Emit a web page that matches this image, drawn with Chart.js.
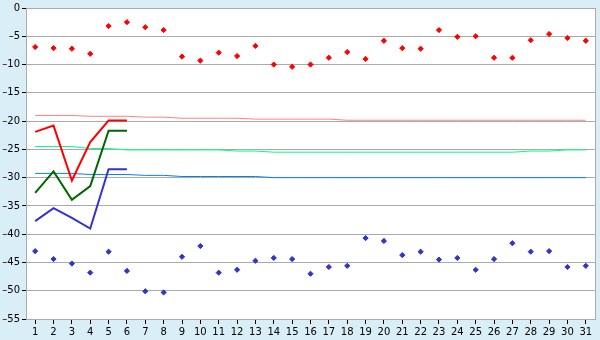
<!DOCTYPE html>
<html>
<head>
<meta charset="utf-8">
<script src="https://cdn.jsdelivr.net/npm/chart.js@4/dist/chart.umd.min.js"></script>
<style>
  body { margin: 0; background: #d9eef6; }
  canvas { display: block; }
</style>
</head>
<body>
<canvas id="chart" width="600" height="340"></canvas>
<script>
let days = [];
for (let d = 1; d <= 31; d++) days.push(String(d));

// daily extremes (points)
let maxTemp = [-6.9, -7.1, -7.2, -8.1, -3.2, -2.5, -3.4, -3.9, -8.6, -9.3,
    -7.9, -8.5, -6.7, -10.0, -10.4, -10.0, -8.8, -7.8, -9.0, -5.8,
    -7.1, -7.2, -3.9, -5.1, -5.0, -8.8, -8.8, -5.7, -4.6, -5.3, -5.8];
let minTemp = [-43.0, -44.4, -45.2, -46.8, -43.1, -46.5, -50.1, -50.3, -44.0, -42.1,
    -46.8, -46.3, -44.7, -44.2, -44.4, -47.0, -45.8, -45.6, -40.7, -41.2,
    -43.7, -43.1, -44.5, -44.2, -46.3, -44.4, -41.6, -43.1, -43.0, -45.8, -45.6];

// current month lines (first 6 days)
let dayMax = [-21.9, -20.8, -30.5, -23.7, -19.9, -19.9];
let dayMean = [-32.7, -28.9, -33.9, -31.5, -21.7, -21.7];
let dayMin = [-37.7, -35.4, -37.1, -39.0, -28.5, -28.5];

// normals
let normMax = [-19.0, -19.0, -19.0, -19.15, -19.15, -19.15, -19.3, -19.3, -19.5, -19.5,
    -19.5, -19.5, -19.65, -19.65, -19.65, -19.65, -19.65, -19.85, -19.85, -19.85,
    -19.85, -19.85, -19.85, -19.85, -19.85, -19.85, -19.85, -19.85, -19.85, -19.85, -19.85];
let normMean = [-24.5, -24.5, -24.5, -24.85, -24.85, -25.1, -25.1, -25.1, -25.1, -25.1,
    -25.1, -25.3, -25.3, -25.5, -25.5, -25.5, -25.5, -25.5, -25.5, -25.5,
    -25.5, -25.5, -25.5, -25.5, -25.5, -25.5, -25.5, -25.3, -25.3, -25.1, -25.1];
let normMin = [-29.25, -29.25, -29.25, -29.45, -29.45, -29.45, -29.6, -29.6, -29.8, -29.8,
    -29.8, -29.8, -29.8, -30.0, -30.0, -30.0, -30.0, -30.0, -30.0, -30.0,
    -30.0, -30.0, -30.0, -30.0, -30.0, -30.0, -30.0, -30.0, -30.0, -30.0, -30.0];

let yTicks = [0, -5, -10, -15, -20, -25, -30, -35, -40, -45, -50, -55];

function thinLine(values, color) {
    return {
        type: 'line', data: values, borderColor: color, borderWidth: 1,
        pointRadius: 0, fill: false, tension: 0
    };
}
function thickLine(values, color) {
    return {
        type: 'line', data: values, borderColor: color, borderWidth: 2,
        pointRadius: 0, fill: false, tension: 0
    };
}
function dots(values, color) {
    return {
        type: 'line', data: values, showLine: false, pointStyle: 'rectRot',
        pointRadius: 2.6, pointBackgroundColor: color, pointBorderColor: color,
        pointBorderWidth: 1
    };
}

const framePlugin = {
    id: 'frame',
    beforeDraw(chart) {
        const c = chart.ctx, a = chart.chartArea;
        c.save();
        c.fillStyle = '#ffffff';
        c.fillRect(a.left, a.top, a.right - a.left, a.bottom - a.top);
        c.restore();
    },
    afterDraw(chart) {
        const c = chart.ctx, a = chart.chartArea;
        c.save();
        c.strokeStyle = '#aaaaaa';
        c.lineWidth = 1;
        c.beginPath();
        c.moveTo(a.right + 0.5, a.top);
        c.lineTo(a.right + 0.5, a.bottom);
        c.stroke();
        c.restore();
    }
};

const config = {
    type: 'line',
    data: {
        labels: days,
        datasets: [
            thickLine(dayMax, '#ff0000'),
            thickLine(dayMean, '#006600'),
            thickLine(dayMin, '#3333cc'),
            thinLine(normMax, '#ff8080'),
            thinLine(normMean, '#00ff80'),
            thinLine(normMin, '#0080ff'),
            dots(maxTemp, '#ff0000'),
            dots(minTemp, '#3333cc')
        ]
    },
    options: {
        responsive: false,
        animation: false,
        layout: { padding: { top: 5, right: 5, left: 0, bottom: 0 } },
        plugins: {
            legend: { display: false },
            tooltip: { enabled: false }
        },
        scales: {
            x: {
                offset: true,
                grid: {
                    offset: false,
                    drawOnChartArea: false,
                    drawTicks: true,
                    tickLength: 5,
                    tickColor: '#000000'
                },
                border: { color: '#aaaaaa' },
                ticks: {
                    color: '#000000',
                    font: { family: 'DejaVu Sans', size: 10 },
                    padding: 2,
                    maxRotation: 0,
                    autoSkip: false
                },
                afterFit(axis) { axis.height = 21; }
            },
            y: {
                min: -55,
                max: 0,
                afterBuildTicks(axis) { axis.ticks = yTicks.map(v => ({ value: v })); },
                grid: {
                    color: '#aaaaaa',
                    tickColor: '#000000',
                    tickLength: 4
                },
                border: { color: '#aaaaaa' },
                ticks: {
                    color: '#000000',
                    font: { family: 'DejaVu Sans', size: 10 },
                    padding: 2,
                    callback: v => String(v).replace('-', '\u2013')
                },
                afterFit(axis) { axis.width = 26; }
            }
        }
    },
    plugins: [framePlugin]
};

new Chart(document.getElementById('chart'), config);
</script>
</body>
</html>
